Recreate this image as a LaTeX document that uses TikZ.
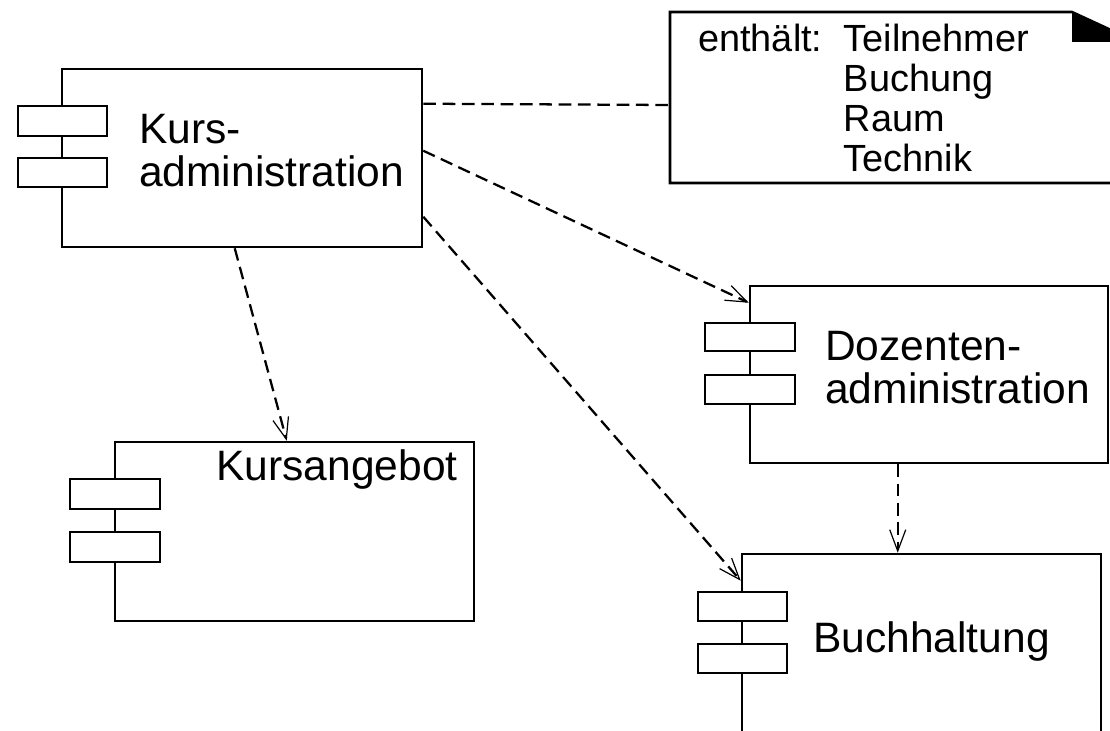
\documentclass[tikz,border=0pt]{standalone}
\usepackage{fontspec}
\setmainfont{Liberation Sans}
\usetikzlibrary{arrows.meta,calc}
\begin{document}
\begin{tikzpicture}[x=0.75pt,y=-0.75pt,
  comp/.style={draw,line width=1.9pt,fill=white,inner sep=0pt},
  tab/.style={draw,line width=1.9pt,fill=white},
  dep/.style={line width=1.7pt,dash pattern=on 9.5pt off 5pt,
    -{Straight Barb[length=16pt,width=12pt,line width=0.9pt]}},
  link/.style={line width=1.7pt,dash pattern=on 9.5pt off 5pt},
  big/.style={font=\fontsize{31.9}{32.25}\selectfont,inner sep=0pt,align=left},
  small/.style={font=\fontsize{28.4}{30}\selectfont,inner sep=0pt}]
\useasboundingbox (0,0) rectangle (1110,731);
\begin{scope}
\clip (0,0) rectangle (1110,731);
% note
\draw[line width=1.9pt] (670,12) -- (1072,12) -- (1137,42) -- (1137,183) -- (670,183) -- cycle;
\fill (1072,12) -- (1072,42) -- (1137,42) -- cycle;
\coordinate (note) at (670,105);
\node[small,anchor=base west] (notetext) at (698,52)
  {\begin{tabular}[t]{@{}l@{\hspace{16pt}}l@{}}enthält: & Teilnehmer\\ & Buchung\\ & Raum\\ & Technik\end{tabular}};
% Kursadministration
\node[comp,minimum width=270pt,minimum height=133.5pt] (kurs) at (242,158) {};
\draw[tab] (18,106) rectangle (107,136);
\draw[tab] (18,158) rectangle (107,187);
\node[big,anchor=base west] (kurslabel) at (139,187) {Kurs-\\administration};
% Dozentenadministration
\node[comp,minimum width=268.5pt,minimum height=132.75pt] (doz) at (929,374.5) {};
\draw[tab] (705,323) rectangle (795,351);
\draw[tab] (705,375) rectangle (795,404);
\node[big,anchor=base west] (dozlabel) at (825,403) {Dozenten-\\administration};
% Kursangebot
\node[comp,minimum width=269.25pt,minimum height=134.25pt] (ang) at (294.5,531.5) {};
\draw[tab] (70,479) rectangle (160,509);
\draw[tab] (70,532) rectangle (160,562);
\node[big,anchor=base east] (anglabel) at (458,480) {Kursangebot};
% Buchhaltung
\node[comp,minimum width=269.25pt,minimum height=183pt] (buch) at (921.5,676) {};
\draw[tab] (698,592) rectangle (787,621);
\draw[tab] (698,644) rectangle (787,673);
\node[big,anchor=base west] (buchlabel) at (813,652) {Buchhaltung};
% connectors
\draw[link] ($(kurs.north east)+(0,36)$) -- (note);
\draw[dep] ($(kurs.north east)+(0,83)$) -- ($(doz.north west)+(0,18)$);
\draw[dep] ($(kurs.north east)+(0,149)$) -- ($(buch.north west)+(0,28)$);
\draw[dep] ($(kurs.south west)+(174,0)$) -- ($(ang.north west)+(173,0)$);
\draw[dep] ($(doz.south west)+(149,0)$) -- ($(buch.north west)+(157,0)$);
\end{scope}
\end{tikzpicture}
\end{document}
